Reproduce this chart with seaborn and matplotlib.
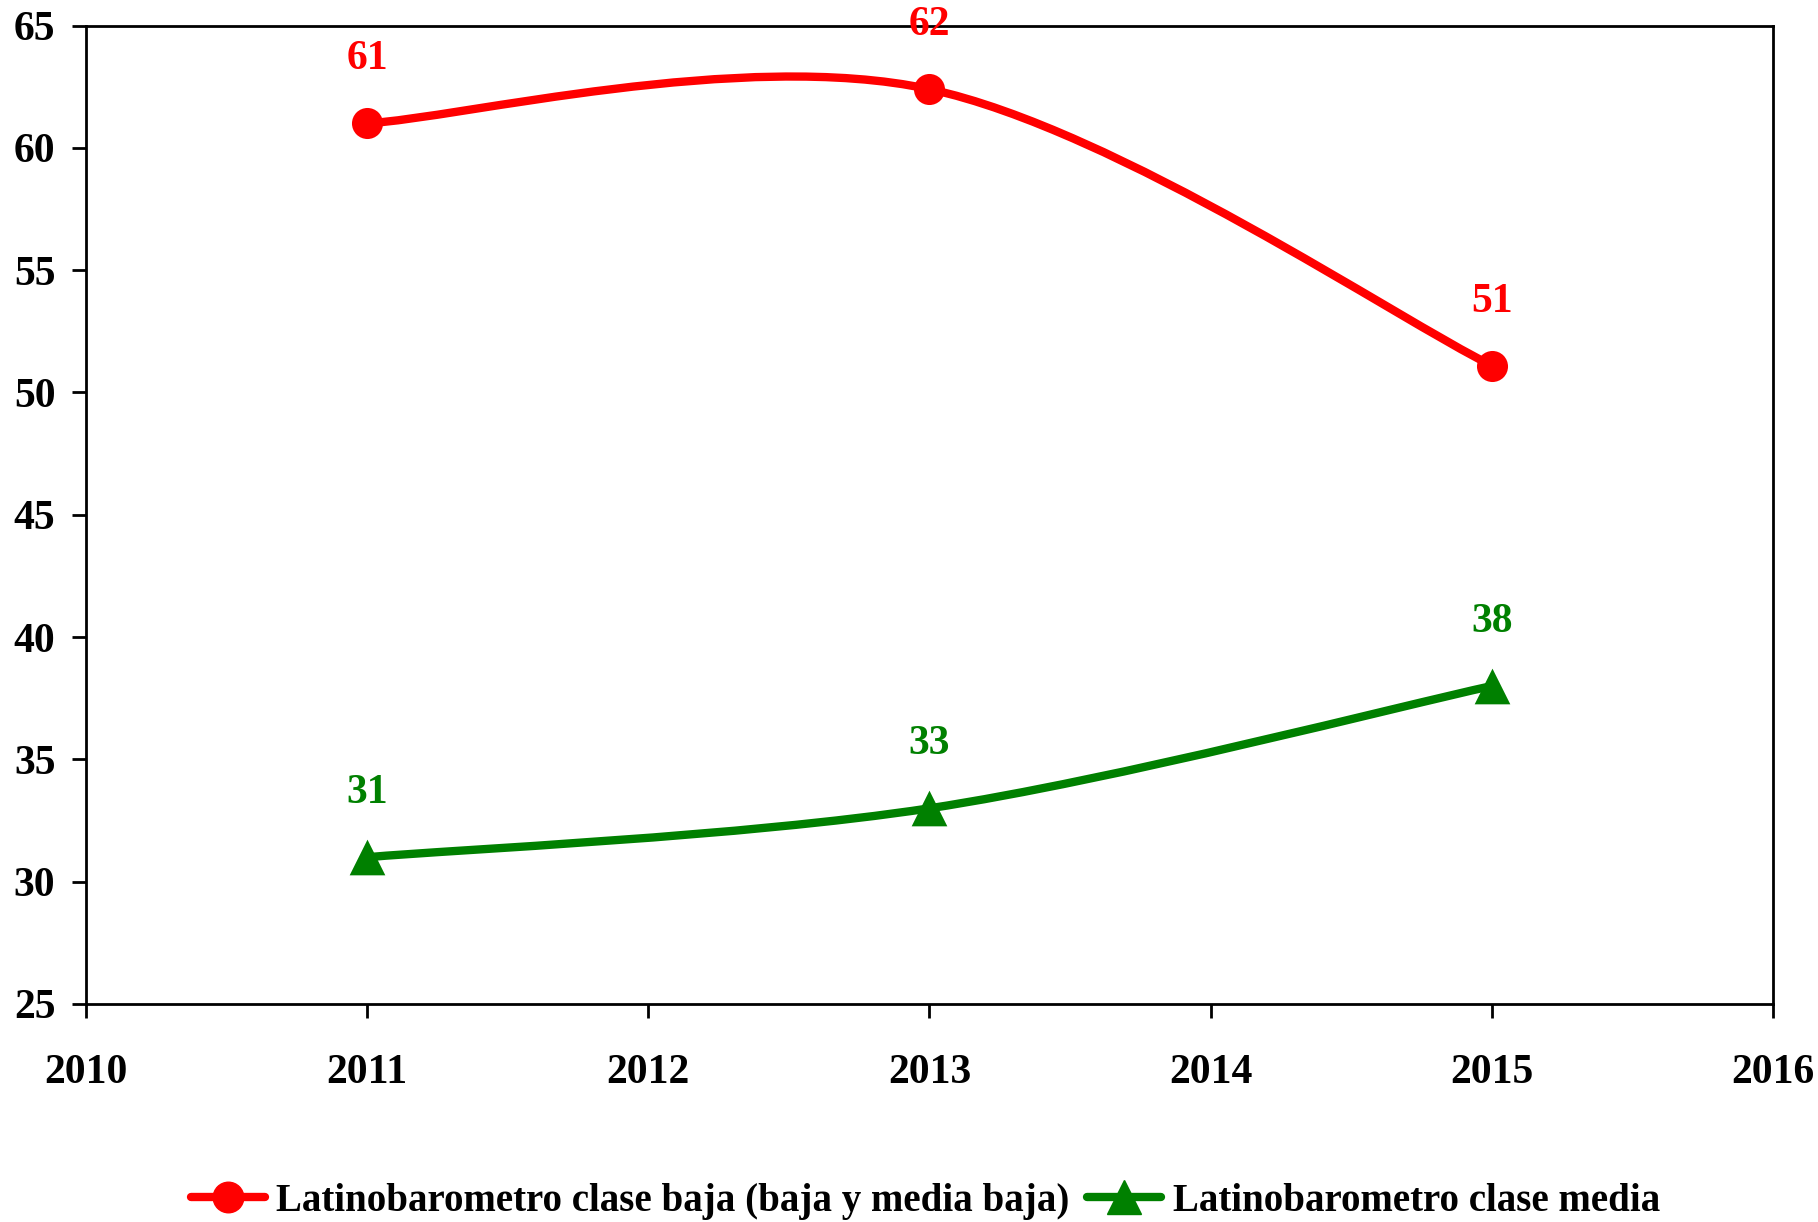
import numpy as np
import pandas as pd
import matplotlib
matplotlib.use("Agg")
import matplotlib.pyplot as plt
from matplotlib.path import Path
from matplotlib.patches import PathPatch
from matplotlib.lines import Line2D
import seaborn as sns

# ---- data ----
years = [2011, 2013, 2015]
baja = [61.0, 62.4, 51.1]
media = [31.0, 33.0, 38.0]
series_names = ["Latinobarometro clase baja (baja y media baja)",
                "Latinobarometro clase media"]
x_ticks = [2010, 2011, 2012, 2013, 2014, 2015, 2016]
y_ticks = [25, 30, 35, 40, 45, 50, 55, 60, 65]

RED = "#FF0000"
GREEN = "#008000"

sns.set_theme(style="white")
plt.rcParams["font.family"] = ["Liberation Serif", "DejaVu Serif"]
plt.rcParams["font.weight"] = "bold"
plt.rcParams["text.color"] = "black"

FS = 30
FS_LEG = 28
LW = 6.0

fig = plt.figure(figsize=(18.18, 12.22), dpi=100)
ax = fig.add_axes([0.0473, 0.1784, 0.9279, 0.8007])


def smooth_path(xs, ys):
    """Excel-style smoothed line: cubic Bezier segments (Catmull-Rom, tension 1/6)."""
    pts = np.column_stack([xs, ys]).astype(float)
    n = len(pts)
    verts = [pts[0]]
    codes = [Path.MOVETO]
    for i in range(n - 1):
        p0 = pts[i - 1] if i > 0 else pts[i]
        p1 = pts[i]
        p2 = pts[i + 1]
        p3 = pts[i + 2] if i + 2 < n else pts[i + 1]
        c1 = p1 + (p2 - p0) / 6.0
        c2 = p2 - (p3 - p1) / 6.0
        verts += [c1, c2, p2]
        codes += [Path.CURVE4] * 3
    return Path(verts, codes)


df = pd.DataFrame({
    "year": years * 2,
    "value": baja + media,
    "serie": [series_names[0]] * len(years) + [series_names[1]] * len(years),
})

styles = {
    series_names[0]: dict(color=RED, marker="o", s=500),
    series_names[1]: dict(color=GREEN, marker="^", s=660),
}

for name in series_names:
    sub = df[df["serie"] == name]
    st = styles[name]
    ax.add_patch(PathPatch(smooth_path(sub["year"].values, sub["value"].values),
                           facecolor="none", edgecolor=st["color"], lw=LW,
                           capstyle="butt", joinstyle="round", zorder=2))
    sns.scatterplot(data=sub, x="year", y="value", ax=ax, color=st["color"],
                    marker=st["marker"], s=st["s"], linewidth=0, zorder=3,
                    legend=False)
    for xv, yv in zip(sub["year"], sub["value"]):
        ax.annotate(f"{yv:.0f}", (xv, yv), xytext=(0, 46), textcoords="offset points",
                    ha="center", va="center", color=st["color"], fontsize=FS,
                    fontweight="bold", annotation_clip=False, zorder=4)

ax.set_xlim(2010, 2016)
ax.set_ylim(25, 65)
ax.set_xticks(x_ticks)
ax.set_yticks(y_ticks)
ax.set_xticklabels([str(t) for t in x_ticks])
ax.set_yticklabels([str(t) for t in y_ticks])
ax.set_xlabel("")
ax.set_ylabel("")
ax.grid(False)

for sp in ax.spines.values():
    sp.set_visible(True)
    sp.set_color("black")
    sp.set_linewidth(2.0)

ax.tick_params(axis="x", which="major", direction="out", length=10, width=2,
               color="black", pad=26, labelsize=FS, labelcolor="black",
               bottom=True, top=False)
ax.tick_params(axis="y", which="major", direction="out", length=10, width=2,
               color="black", pad=12, labelsize=FS, labelcolor="black",
               left=True, right=False)
for lab in ax.get_xticklabels() + ax.get_yticklabels():
    lab.set_fontweight("bold")

handles = [
    Line2D([], [], color=RED, lw=LW, marker="o", markersize=22),
    Line2D([], [], color=GREEN, lw=LW, marker="^", markersize=24),
]
fig.legend(handles, series_names, loc="center", bbox_to_anchor=(0.509, 0.017),
           ncol=2, frameon=False, prop={"size": FS_LEG, "weight": "bold"},
           labelcolor="black", handlelength=1.9, handletextpad=0.3,
           columnspacing=0.45, borderaxespad=0)

fig.savefig("out.png", dpi=100, facecolor="white")
